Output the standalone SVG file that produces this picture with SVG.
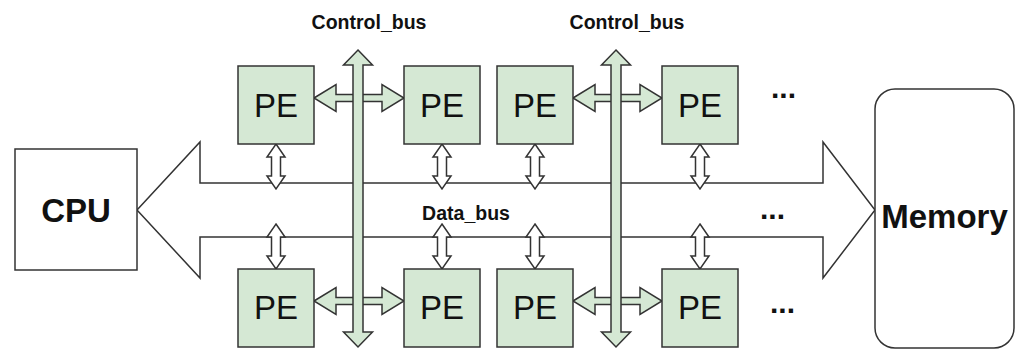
<svg xmlns="http://www.w3.org/2000/svg" xmlns:xlink="http://www.w3.org/1999/xlink" width="1024" height="351" viewBox="0 0 1024 351">
  <style>
    .edge { stroke: #333333; stroke-width: 1.5; stroke-linejoin: miter; }
    .bus-data { fill: #ffffff; }
    .bus-ctrl { fill: #d5e8d4; }
    .pe rect { fill: #d5e8d4; stroke: #333333; stroke-width: 1.5; }
    .box { fill: #ffffff; stroke: #333333; stroke-width: 1.5; }
    text { font-family: "Liberation Sans", Arial, sans-serif; fill: #111111; }
    .pe text { font-size: 33px; text-anchor: middle; }
    .big { font-size: 33px; font-weight: bold; text-anchor: middle; }
    .label { font-size: 19.5px; font-weight: bold; text-anchor: middle; }
    .dots { font-size: 30px; font-weight: bold; }
  </style>
  <defs>
    <!-- small two-way link between a PE and the data bus (45 tall) -->
    <path id="link" d="M0,0 L9,13 L4.5,13 L4.5,32 L9,32 L0,45 L-9,32 L-4.5,32 L-4.5,13 L-9,13 Z"/>
    <!-- vertical control bus (297 tall) -->
    <path id="cbus" d="M0,0 L14.5,15 L5,15 L5,282 L14.5,282 L0,297 L-14.5,282 L-5,282 L-5,15 L-14.5,15 Z"/>
  </defs>

  <!-- connectors -->
  <g id="connectors">
    <!-- wide data bus between CPU and Memory -->
    <path class="edge bus-data" d="M137,210 L200,142 L200,183 L823,183 L823,142 L875,210 L823,278 L823,237 L200,237 L200,278 Z"/>

    <!-- PE to data bus links -->
    <g class="edge bus-data">
      <use xlink:href="#link" transform="translate(276,144)"/>
      <use xlink:href="#link" transform="translate(442,144)"/>
      <use xlink:href="#link" transform="translate(535,144)"/>
      <use xlink:href="#link" transform="translate(700,144)"/>
      <use xlink:href="#link" transform="translate(276,224)"/>
      <use xlink:href="#link" transform="translate(442,224)"/>
      <use xlink:href="#link" transform="translate(535,224)"/>
      <use xlink:href="#link" transform="translate(700,224)"/>
    </g>

    <!-- control bus branches to the PEs -->
    <g class="edge bus-ctrl">
      <path d="M314,98 L336,84.5 L336,94.5 L382,94.5 L382,84.5 L404,98 L382,111.5 L382,101.5 L336,101.5 L336,111.5 Z"/>
      <path d="M314,301 L336,287.5 L336,297.5 L382,297.5 L382,287.5 L404,301 L382,314.5 L382,304.5 L336,304.5 L336,314.5 Z"/>
      <path d="M573,98 L595,84.5 L595,94.5 L640,94.5 L640,84.5 L662,98 L640,111.5 L640,101.5 L595,101.5 L595,111.5 Z"/>
      <path d="M573,301 L595,287.5 L595,297.5 L640,297.5 L640,287.5 L662,301 L640,314.5 L640,304.5 L595,304.5 L595,314.5 Z"/>
    </g>

    <!-- vertical control buses -->
    <g class="edge bus-ctrl">
      <use xlink:href="#cbus" transform="translate(358,50)"/>
      <use xlink:href="#cbus" transform="translate(616,50)"/>
    </g>
  </g>

  <!-- processing elements -->
  <g id="pe-1" class="pe"><rect x="238" y="66" width="76" height="78"/><text x="276" y="117">PE</text></g>
  <g id="pe-2" class="pe"><rect x="404" y="66" width="76" height="78"/><text x="442" y="117">PE</text></g>
  <g id="pe-3" class="pe"><rect x="497" y="66" width="76" height="78"/><text x="535" y="117">PE</text></g>
  <g id="pe-4" class="pe"><rect x="662" y="66" width="76" height="78"/><text x="700" y="117">PE</text></g>
  <g id="pe-5" class="pe"><rect x="238" y="269" width="76" height="78"/><text x="276" y="319">PE</text></g>
  <g id="pe-6" class="pe"><rect x="404" y="269" width="76" height="78"/><text x="442" y="319">PE</text></g>
  <g id="pe-7" class="pe"><rect x="497" y="269" width="76" height="78"/><text x="535" y="319">PE</text></g>
  <g id="pe-8" class="pe"><rect x="662" y="269" width="76" height="78"/><text x="700" y="319">PE</text></g>

  <!-- CPU -->
  <g id="cpu">
    <rect class="box" x="15" y="149" width="122" height="121"/>
    <text class="big" x="76" y="222">CPU</text>
  </g>

  <!-- Memory -->
  <g id="memory">
    <rect class="box" x="875" y="89" width="139" height="259" rx="20" ry="20"/>
    <text class="big" x="944.5" y="228">Memory</text>
  </g>

  <!-- bus labels -->
  <g id="labels">
    <text class="label" x="369" y="29">Control_bus</text>
    <text class="label" x="627" y="29">Control_bus</text>
    <text class="label" x="466" y="220">Data_bus</text>
    <text class="dots" x="771" y="98">...</text>
    <text class="dots" x="760" y="219">...</text>
    <text class="dots" x="770" y="313">...</text>
  </g>
</svg>
